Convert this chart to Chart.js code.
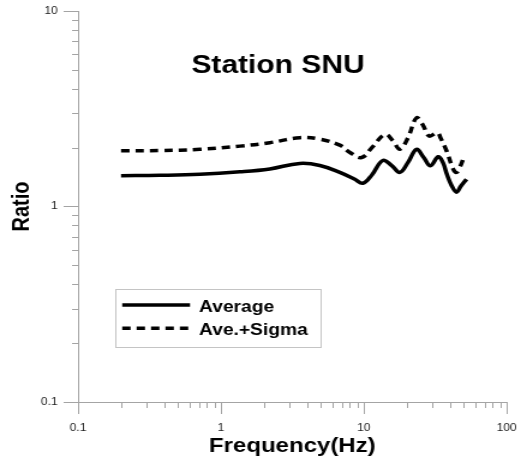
<!DOCTYPE html>
<html><head><meta charset="utf-8">
<script src="https://cdn.jsdelivr.net/npm/chart.js@4"></script>
<style>html,body{margin:0;padding:0;background:#fff;overflow:hidden}</style>
</head><body>
<canvas id="c" width="439" height="463" style="display:block;width:527px;height:463px"></canvas>
<script>
// ---- data ----
const frequencyAvg = [0.2,0.374,0.713,1.36,2.2,3.57,4.93,6.8,8.66,9.86,11.4,13.6,15.7,17.9,20.4,23.4,26.3,29.3,33.2,35.8,38.2,41.1,44.6,47.8,52.4];
const ratioAvg     = [1.438,1.444,1.461,1.504,1.557,1.661,1.622,1.495,1.378,1.315,1.45,1.72,1.62,1.495,1.68,1.96,1.78,1.617,1.796,1.68,1.461,1.285,1.184,1.27,1.378];
const frequencySig = [0.2,0.374,0.713,1.36,2.2,3.57,4.93,6.8,8.0,9.66,11.4,14.1,16.0,17.9,20.4,23.4,25.9,28.7,32.7,34.7,38.0,42.3,44.6,47.0,49.6];
const ratioSig     = [1.926,1.932,1.962,2.036,2.121,2.249,2.21,2.06,1.888,1.781,2.0,2.337,2.171,1.962,2.249,2.84,2.617,2.294,2.384,2.223,1.926,1.554,1.495,1.585,1.746];
const xMajorTicks = [0.1,1,10,100];
const yMajorTicks = [0.1,1,10];
const seriesLabels = ['Average','Ave.+Sigma'];
const chartTitle = 'Station SNU';
const xTitle = 'Frequency(Hz)';
const yTitle = 'Ratio';

// ---- helpers ----
const AXIS = '#a4a4a4';
const FONT = '"Liberation Sans", Arial, sans-serif';
function isMajor(v){ const l = Math.log10(v); return Math.abs(l - Math.round(l)) < 1e-9; }
function withMinors(majors){
  const out = [];
  for (let i = 0; i < majors.length; i++){
    out.push(majors[i]);
    if (i < majors.length - 1) for (let k = 2; k <= 9; k++) out.push(+(majors[i]*k).toPrecision(6));
  }
  return out.map(v => ({value: v}));
}
const pts = (xs, ys) => xs.map((x, i) => ({x, y: ys[i]}));

const decor = {
  id: 'decor',
  afterDraw(chart){
    const ctx = chart.ctx, a = chart.chartArea, xs = chart.scales.x, ys = chart.scales.y;
    ctx.save();
    // minor ticks
    ctx.strokeStyle = AXIS; ctx.lineWidth = 1;
    xs.ticks.forEach(t => {
      if (isMajor(t.value)) return;
      const p = Math.round(xs.getPixelForValue(t.value)) + 0.5;
      ctx.beginPath(); ctx.moveTo(p, a.bottom); ctx.lineTo(p, a.bottom + 6); ctx.stroke();
    });
    ys.ticks.forEach(t => {
      if (isMajor(t.value)) return;
      const p = Math.round(ys.getPixelForValue(t.value)) + 0.5;
      ctx.beginPath(); ctx.moveTo(a.left - 5, p); ctx.lineTo(a.left, p); ctx.stroke();
    });
    // title inside plot
    ctx.fillStyle = '#000';
    ctx.font = 'bold 25px ' + FONT;
    ctx.textAlign = 'center'; ctx.textBaseline = 'alphabetic';
    ctx.fillText(chartTitle, a.left + 166.6, a.top + 61.5);
    // legend box
    const lx = a.left + 30.8, ly = a.top + 278;
    ctx.strokeStyle = '#c4c4c4'; ctx.lineWidth = 1;
    ctx.strokeRect(Math.round(lx) + 0.5, Math.round(ly) + 0.5, 171, 58);
    chart.data.datasets.forEach((ds, i) => {
      const y = ly + 16 + i * 23.3;
      ctx.strokeStyle = ds.borderColor; ctx.lineWidth = ds.borderWidth;
      ctx.setLineDash(ds.borderDash || []);
      ctx.beginPath(); ctx.moveTo(lx + 6, y); ctx.lineTo(lx + 62.5, y); ctx.stroke();
      ctx.setLineDash([]);
      ctx.font = 'bold 16px ' + FONT; ctx.textAlign = 'left'; ctx.fillStyle = '#000';
      ctx.fillText(ds.label, lx + 70, y + 6.8);
    });
    ctx.restore();
  }
};

new Chart(document.getElementById('c'), {
  type: 'line',
  data: { datasets: [
    {label: seriesLabels[0], data: pts(frequencyAvg, ratioAvg), borderColor: '#000', borderWidth: 3.5, pointRadius: 0, tension: 0.4, fill: false},
    {label: seriesLabels[1], data: pts(frequencySig, ratioSig), borderColor: '#000', borderWidth: 3.5, borderDash: [7,5], pointRadius: 0, tension: 0.4, fill: false}
  ]},
  options: {
    responsive: false, animation: false, devicePixelRatio: 1,
    layout: {padding: {top: 7, right: 17, left: 0, bottom: 0}},
    plugins: {legend: {display: false}, title: {display: false}, tooltip: {enabled: false}},
    scales: {
      x: {
        type: 'logarithmic', min: 0.1, max: 100, position: 'bottom',
        afterBuildTicks: s => { s.ticks = withMinors(xMajorTicks); },
        afterFit: s => { s.height = 61; },
        ticks: {autoSkip: false, maxRotation: 0, padding: 8, color: '#222', font: {family: FONT, size: 10},
                callback: v => isMajor(v) ? String(v) : ''},
        grid: {drawOnChartArea: false, drawTicks: true, tickLength: 12,
               tickColor: c => (c.tick && isMajor(c.tick.value)) ? AXIS : 'rgba(0,0,0,0)'},
        border: {display: true, color: AXIS, width: 1},
        title: {display: true, text: xTitle, color: '#000', font: {family: FONT, size: 20, weight: 'bold'}, padding: {top: 0, bottom: 5}}
      },
      y: {
        type: 'logarithmic', min: 0.1, max: 10, position: 'left',
        afterBuildTicks: s => { s.ticks = withMinors(yMajorTicks); },
        afterFit: s => { s.width = 65; },
        ticks: {autoSkip: false, padding: 5, color: '#222', font: {family: FONT, size: 10},
                callback: v => isMajor(v) ? String(v) : ''},
        grid: {drawOnChartArea: false, drawTicks: true, tickLength: 12,
               tickColor: c => (c.tick && isMajor(c.tick.value)) ? AXIS : 'rgba(0,0,0,0)'},
        border: {display: true, color: AXIS, width: 1},
        title: {display: true, text: yTitle, color: '#000', font: {family: FONT, size: 20, weight: 'bold'}, padding: {top: 6, bottom: 0}}
      }
    }
  },
  plugins: [decor]
});
</script>
</body></html>
